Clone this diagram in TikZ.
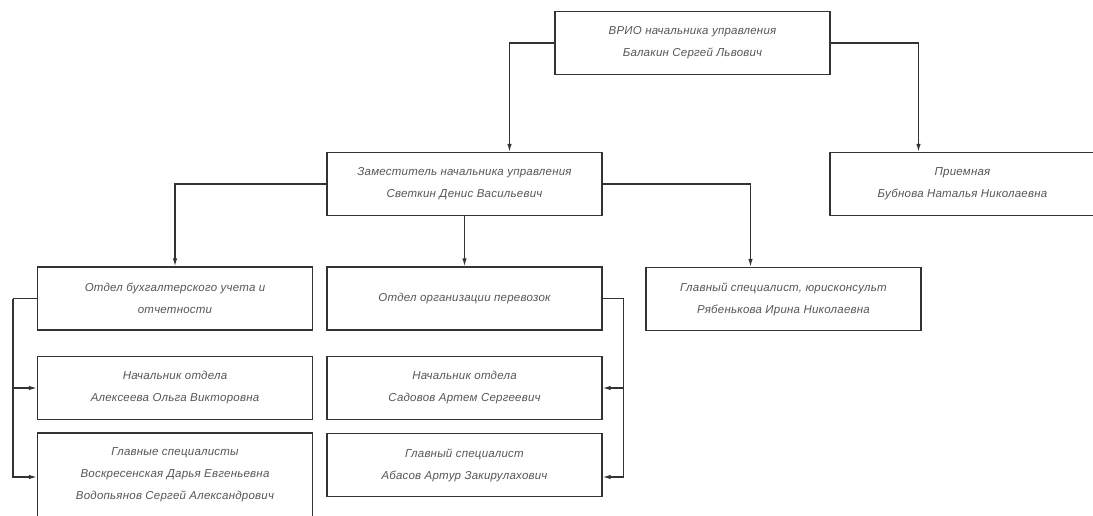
\documentclass[tikz,border=0pt]{standalone}
\usepackage{fontspec}
\usepackage{tikz}
\usetikzlibrary{arrows.meta}
\newfontfamily\cadfont[LetterSpace=2]{Liberation Sans}
\definecolor{linegray}{HTML}{333333}
\definecolor{textgray}{HTML}{555555}

\begin{document}
\begin{tikzpicture}
  [x=1pt,y=-1pt,line width=1.3pt,draw=linegray,
   every node/.style={draw=linegray,rectangle,minimum width=275pt,minimum height=63pt,
     inner sep=0pt,align=center,text=textgray,
     font=\cadfont\itshape\fontsize{11.5}{22}\selectfont},
   tip/.style={-{Latex[length=8pt,width=4.5pt]}}]
  \useasboundingbox (0,0) rectangle (1093,516);

  \node (vrio)   at (692.5,43)  {ВРИО начальника управления\\Балакин Сергей Львович};
  \node[minimum width=265pt] (priem) at (962.5,184) {Приемная\\Бубнова Наталья Николаевна};
  \node (zam)    at (464.5,184) {Заместитель начальника управления\\Светкин Денис Васильевич};

  \node (buh)    at (175,298.5)   {Отдел бухгалтерского учета и\\отчетности};
  \node (perev)  at (464.5,298.5) {Отдел организации перевозок};
  \node (yurist) at (783.5,299)   {Главный специалист, юрисконсульт\\Рябенькова Ирина Николаевна};

  \node (nach1)  at (175,388)   {Начальник отдела\\Алексеева Ольга Викторовна};
  \node[minimum height=84pt] (spec1) at (175,475) {Главные специалисты\\Воскресенская Дарья Евгеньевна\\Водопьянов Сергей Александрович};
  \node (nach2)  at (464.5,388) {Начальник отдела\\Садовов Артем Сергеевич};
  \node (spec2)  at (464.5,465) {Главный специалист\\Абасов Артур Закирулахович};

  \coordinate (zamin)   at ([xshift=45pt]zam.north);
  \coordinate (priemin) at ([xshift=-44pt]priem.north);
  \coordinate (yurin)   at ([xshift=-33pt]yurist.north);

  \foreach \from/\to in {vrio.west/zamin,vrio.east/priemin,zam.west/buh.north,zam.east/yurin}
    \draw[tip] (\from) -| (\to);
  \draw[tip] (zam.south) -- (perev.north);

  \draw (buh.west) -- ++(-24,0) coordinate (lbr);
  \draw[tip] (lbr) |- (nach1.west);
  \draw[tip] (lbr) |- ([yshift=-2pt]spec1.west);

  \draw (perev.east) -- ++(21,0) coordinate (rbr);
  \draw[tip] (rbr) |- (nach2.east);
  \draw[tip] (rbr) |- ([yshift=-12pt]spec2.east);

\end{tikzpicture}
\end{document}
